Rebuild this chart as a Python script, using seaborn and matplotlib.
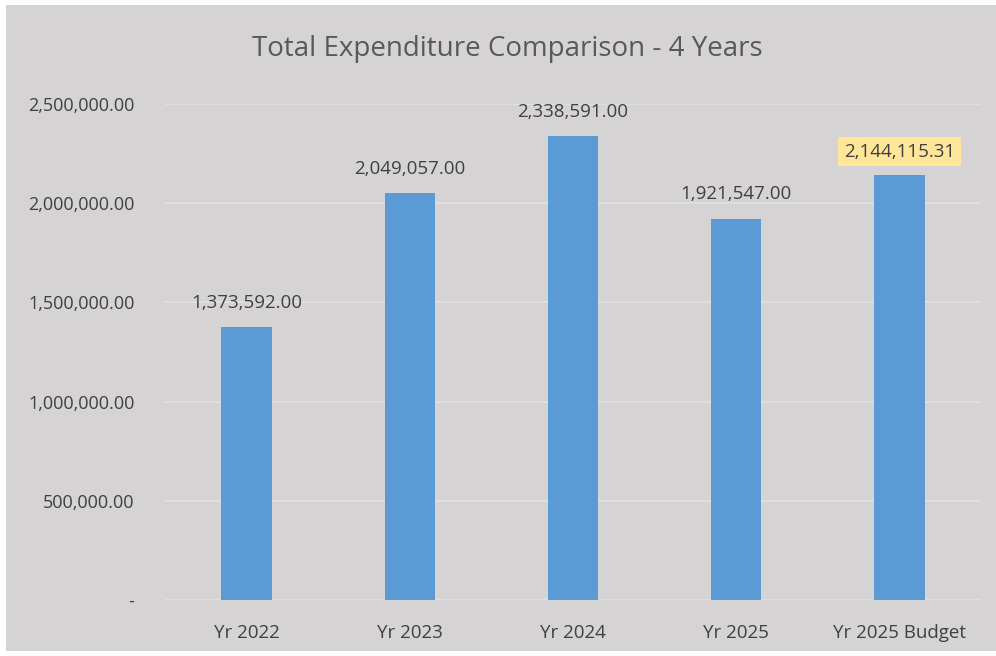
import matplotlib
matplotlib.use("Agg")
import matplotlib.pyplot as plt
from matplotlib.patches import Rectangle
import seaborn as sns
import pandas as pd

categories = ["Yr 2022", "Yr 2023", "Yr 2024", "Yr 2025", "Yr 2025 Budget"]
expenditure = [1373592.00, 2049057.00, 2338591.00, 1921547.00, 2144115.31]
y_ticks = [0, 500000, 1000000, 1500000, 2000000, 2500000]
y_tick_labels = ["-", "500,000.00", "1,000,000.00", "1,500,000.00", "2,000,000.00", "2,500,000.00"]

BG = "#d5d3d3"
BAR = "#5b9bd5"
GRID = "#e2e1e1"
TEXT = "#404040"

df = pd.DataFrame({"category": categories, "value": expenditure})

sns.set_theme(style="white")
plt.rcParams["font.family"] = ["Open Sans", "DejaVu Sans"]

W, H = 996, 656
fig = plt.figure(figsize=(W / 100, H / 100), dpi=100, facecolor="white")
# grey chart panel inside a thin white margin
fig.patches.append(Rectangle((6 / W, 5 / H), (W - 6) / W, (H - 10) / H,
                             transform=fig.transFigure, facecolor=BG,
                             edgecolor="none", zorder=-10))

ax = fig.add_axes([165 / W, 1 - 600 / H, (981 - 165) / W, (600 - 104) / H])
ax.patch.set_visible(False)

sns.barplot(data=df, x="category", y="value", color=BAR, width=0.31,
            saturation=1, linewidth=0, ax=ax, zorder=3)

ax.set_ylim(0, 2500000)
ax.set_xlim(-0.5, len(categories) - 0.5)
ax.set_yticks(y_ticks)
ax.set_yticklabels(y_tick_labels, fontsize=13, color=TEXT)
ax.tick_params(axis="x", labelsize=13.5, colors=TEXT, length=0, pad=17)
ax.tick_params(axis="y", length=0, pad=22)
ax.set_xlabel("")
ax.set_ylabel("")
for yv in y_ticks:
    ax.axhline(yv, color=GRID, lw=1.2, zorder=1)
for s in ax.spines.values():
    s.set_visible(False)

for i, v in enumerate(expenditure):
    label = f"{v:,.2f}"
    kw = dict(ha="center", va="bottom", fontsize=13.5, color=TEXT, zorder=5)
    if i == len(expenditure) - 1:
        kw["bbox"] = dict(boxstyle="square,pad=0.3", facecolor="#ffe699",
                          edgecolor="none")
        ax.annotate(label, (i, v), xytext=(0, 10), textcoords="offset points", **kw)
    else:
        ax.annotate(label, (i, v), xytext=(0, 11), textcoords="offset points", **kw)

fig.text(507 / W, 1 - 49 / H, "Total Expenditure Comparison - 4 Years",
         ha="center", va="center", fontsize=20, color="#595959")

fig.savefig("out.png", dpi=100, facecolor="white")
